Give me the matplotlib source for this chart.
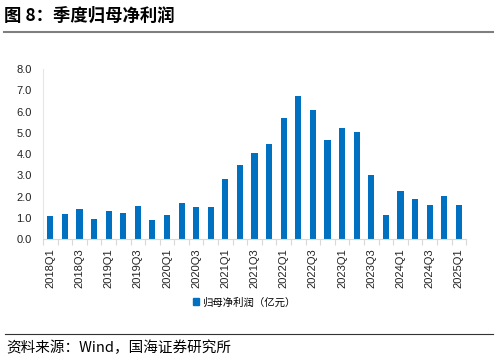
import matplotlib
matplotlib.use("Agg")
from matplotlib import pyplot as plt
from matplotlib.lines import Line2D
from matplotlib.patches import Patch

plt.rcParams['font.family'] = ['Liberation Sans', 'Noto Sans CJK SC', 'DejaVu Sans']

# Données
quarters = [f"{y}Q{q}" for y in range(2018, 2026) for q in range(1, 5)][:29]
profit = [1.10, 1.19, 1.43, 0.94, 1.33, 1.22, 1.55, 0.91, 1.13, 1.68,
          1.51, 1.53, 2.82, 3.48, 4.05, 4.47, 5.71, 6.76, 6.09, 4.67,
          5.24, 5.04, 3.00, 1.13, 2.24, 1.87, 1.60, 2.04, 1.60]
y_ticks = [0, 1, 2, 3, 4, 5, 6, 7, 8]

blue = '#0070C0'
grey = '#D9D9D9'

fig = plt.figure(figsize=(4.98, 3.62), dpi=100)
ax = fig.add_axes([0.0863, 0.3398, 0.8497, 0.4688])

x = list(range(len(quarters)))
ax.bar(x, profit, width=0.42, color=blue, zorder=2)

ax.set_xlim(-0.5, len(quarters) - 0.5)
ax.set_ylim(0, 8)
ax.set_yticks(y_ticks)
ax.set_yticklabels([f"{v:.1f}" for v in y_ticks], fontsize=8, color='#222222')
ax.tick_params(axis='y', length=0, pad=8)

ax.set_xticks(x[::2])
ax.set_xticklabels(quarters[::2], rotation=90, fontsize=8, color='#222222')
ax.set_xticks([i + 0.5 for i in range(-1, len(quarters))], minor=True)
ax.tick_params(axis='x', which='major', length=0, pad=7)
ax.tick_params(axis='x', which='minor', length=4, color=grey, width=0.8)

for side in ['top', 'right']:
    ax.spines[side].set_visible(False)
ax.spines['left'].set_color('#E6E6E6')
ax.spines['bottom'].set_color(grey)

# Légende
fig.legend(handles=[Patch(color=blue)], labels=['归母净利润（亿元）'],
           loc='center', bbox_to_anchor=(0.49, 0.165), frameon=False,
           handlelength=0.6, handleheight=0.6, handletextpad=0.3,
           prop={'family': ['Noto Sans CJK SC'], 'size': 7.5})

# Titre et source
fig.text(0.008, 0.958, '图 8：季度归母净利润', fontsize=12.5, fontweight='bold',
         va='center', ha='left', family=['Noto Sans CJK SC'])
fig.add_artist(Line2D([0.008, 0.99], [0.912, 0.912], color='#7F7F7F', lw=1.5))
fig.add_artist(Line2D([0.01, 0.99], [0.077, 0.077], color='#333333', lw=0.8))
fig.text(0.012, 0.038, '资料来源：Wind，国海证券研究所', fontsize=10.5,
         va='center', ha='left', family=['Noto Sans CJK SC'])

plt.savefig("out.png", dpi=100)
plt.close()
